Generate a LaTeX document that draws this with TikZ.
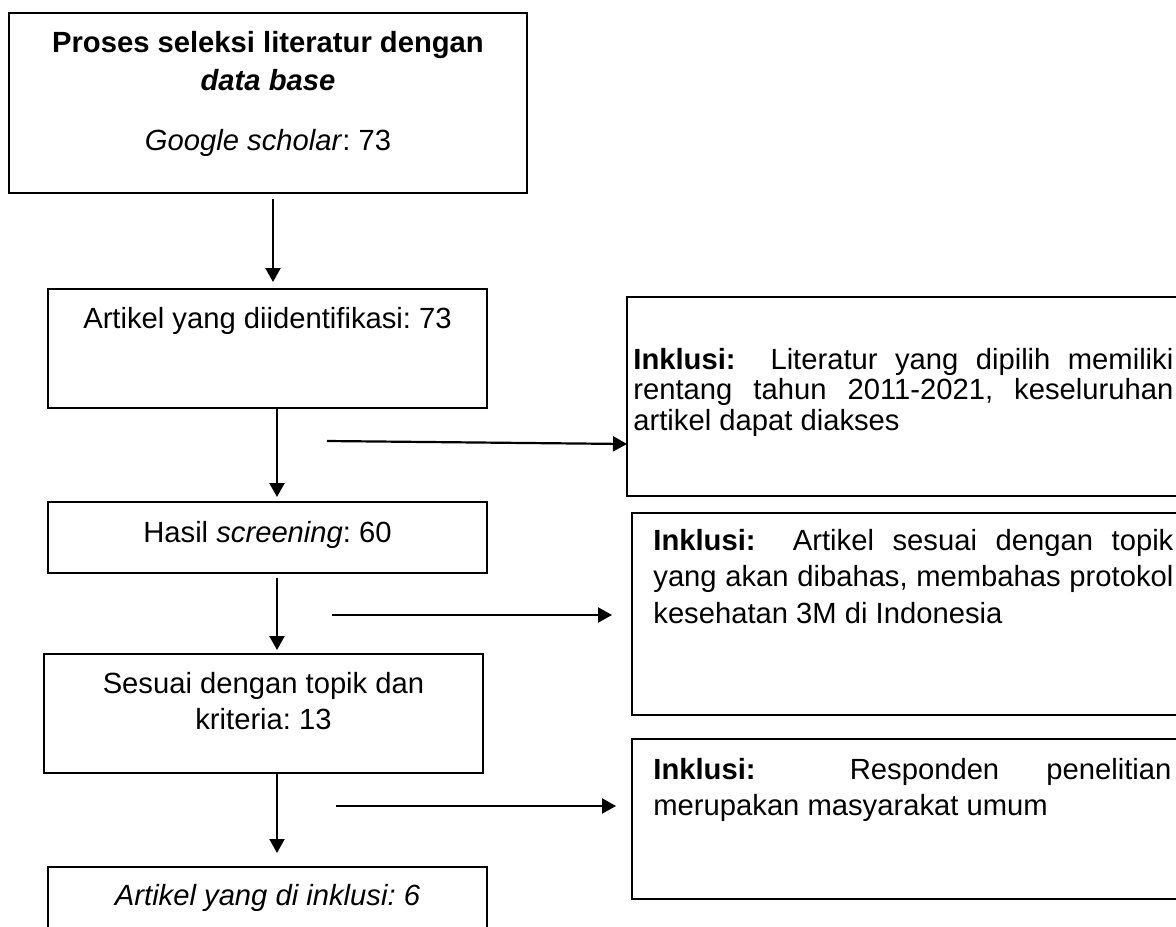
\documentclass[tikz,border=0pt]{standalone}
\usepackage{fontspec}
\setmainfont{Liberation Sans}
\usetikzlibrary{arrows.meta}
\frenchspacing
\newcommand\fsz[1]{\fontsize{14.6pt}{#1}\selectfont}
\begin{document}
\begin{tikzpicture}[x=0.5pt,y=-0.5pt,
  box/.style={draw, line width=1.4pt, rectangle, inner sep=0pt, outer sep=0pt},
  txt/.style={anchor=base, inner sep=0pt, font=\fsz{18pt}},
  rtxt/.style={anchor=base west, inner sep=0pt},
  arr/.style={line width=1.1pt, -{Triangle[length=7pt,width=7.5pt]}}]
\useasboundingbox (0,0) rectangle (1176,926);
% left column boxes
\node[box, minimum width=259pt, minimum height=90pt] (B1) at (268,103) {};
\node[box, minimum width=219.5pt, minimum height=59.5pt] (B2) at (267.5,348.5) {};
\node[box, minimum width=219.5pt, minimum height=35.5pt] (B3) at (267.5,537.5) {};
\node[box, minimum width=219.5pt, minimum height=59.5pt] (B4) at (263.5,713.5) {};
\node[box, minimum width=219.5pt, minimum height=60pt] (B5) at (267.5,927) {};
% right column boxes
\node[box, minimum width=290pt, minimum height=99.5pt] (R1) at (917,396.5) {};
\node[box, minimum width=288pt, minimum height=101pt] (R2) at (920,614) {};
\node[box, minimum width=288pt, minimum height=80pt] (R3) at (920,819) {};
% texts left
\node[txt] (T1a) at (268,52) {\textbf{Proses seleksi literatur dengan}};
\node[txt] (T1b) at (268,90) {\textbf{\textit{data base}}};
\node[txt] (T1c) at (268,150) {\textit{Google scholar}: 73};
\node[txt] (T2) at (267.5,328) {Artikel yang diidentifikasi: 73};
\node[txt] (T3) at (267.5,542) {Hasil \textit{screening}: 60};
\node[txt] (T4) at (263.5,693) {\parbox[t]{219pt}{\centering\fsz{18pt}Sesuai dengan topik dan\\ kriteria: 13}};
\node[txt] (T5) at (267.5,905) {\textit{Artikel yang di inklusi: 6}};
% texts right
\node[rtxt] (RT1) at (633,369) {\parbox[t]{270pt}{\fsz{15.25pt}\tolerance=10000 \textbf{Inklusi:}~ Literatur yang dipilih memiliki\linebreak rentang tahun 2011-2021, keseluruhan\linebreak artikel dapat diakses}};
\node[rtxt] (RT2) at (653,550) {\parbox[t]{260pt}{\fsz{18.4pt}\tolerance=10000 \textbf{Inklusi:}~ Artikel sesuai dengan topik\linebreak yang akan dibahas, membahas protokol\linebreak kesehatan 3M di Indonesia}};
\node[rtxt] (RT3) at (653,779) {\parbox[t]{259pt}{\fsz{18pt}\tolerance=10000 \textbf{Inklusi:}~ Responden penelitian\linebreak merupakan masyarakat umum}};
% vertical arrows
\draw[arr, shorten <=3pt, shorten >=3.5pt] ([xshift=2.5pt]B1.south) -- ([xshift=2.75pt]B2.north);
\draw[arr, shorten >=2.5pt] ([xshift=4.75pt]B2.south) -- ([xshift=4.75pt]B3.north);
\draw[arr, shorten <=2.5pt, shorten >=2pt] ([xshift=4.75pt]B3.south) -- ([xshift=6.75pt]B4.north);
\draw[arr, shorten >=7pt] ([xshift=6.75pt]B4.south) -- ([xshift=4.75pt]B5.north);
% horizontal arrows
\coordinate (s1) at (327,441);
\coordinate (s2) at (332,615);
\coordinate (s3) at (336,806);
\draw[arr] (s1) -- ([yshift=-1.5pt]s1 -| R1.west);
\draw[arr, shorten >=10pt] (s2) -- (s2 -| R2.west);
\draw[arr, shorten >=8pt] (s3) -- (s3 -| R3.west);
\end{tikzpicture}
\end{document}
